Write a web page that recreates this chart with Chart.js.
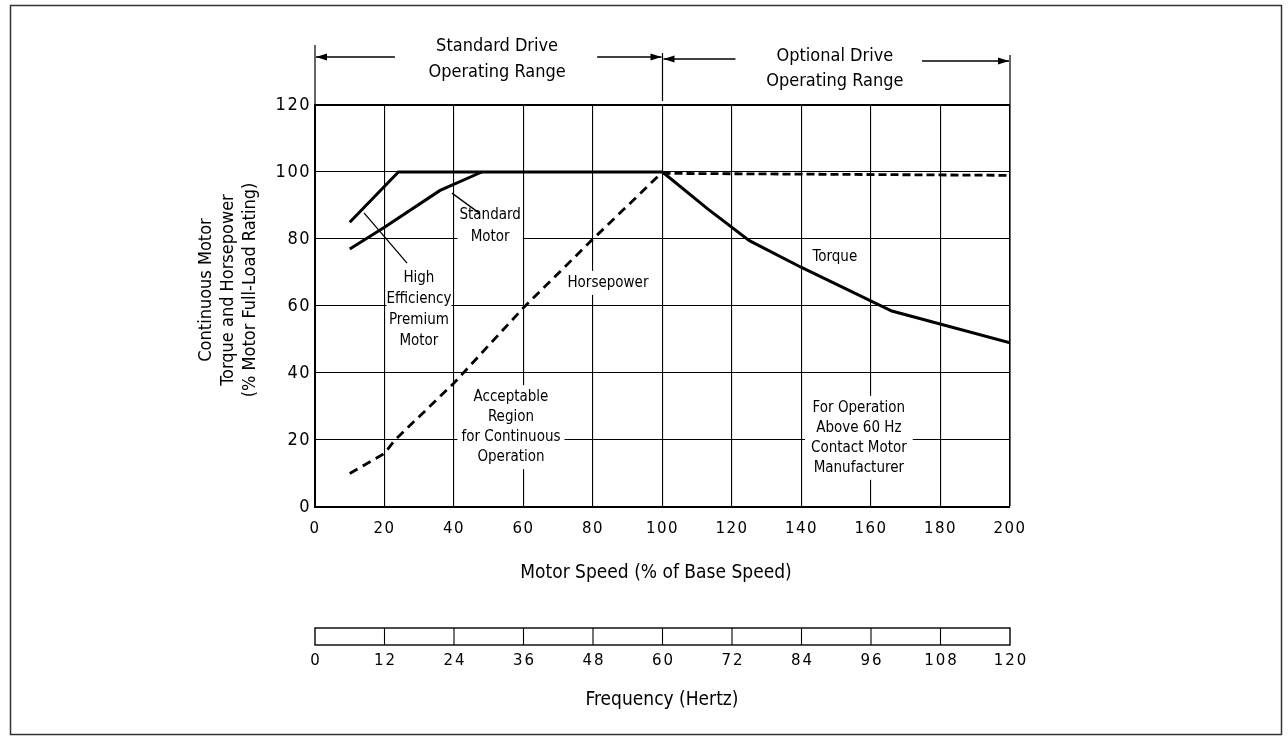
<!DOCTYPE html>
<html>
<head>
<meta charset="utf-8">
<script src="https://cdn.jsdelivr.net/npm/chart.js@4"></script>
<style>
  html, body { margin: 0; padding: 0; background: #fff; }
  canvas { display: block; }
</style>
</head>
<body>
<canvas id="grafico" width="1288" height="736"></canvas>
<script>
// ── Datos ─────────────────────────────────────
const speedTicks = [0, 20, 40, 60, 80, 100, 120, 140, 160, 180, 200]
const hzTicks    = [0, 12, 24, 36, 48, 60, 72, 84, 96, 108, 120]

// motor de alta eficiencia (se une con la línea de 100 %)
const heX = [10, 24, 100]
const heY = [85, 100, 100]

// motor estándar
const stdX = [10, 20, 36, 48]
const stdY = [77, 83.5, 94.5, 100]

// potencia (discontinua)
const hpX = [10, 20, 23, 40, 60, 80, 100]
const hpY = [10, 16, 20, 37, 59.5, 80, 100]
const hpExtX = [100, 200]
const hpExtY = [99.6, 99]

// par
const torqueX = [100, 113, 125, 140, 166, 200]
const torqueY = [100, 89, 79.5, 71.5, 58.5, 49]

const pares = (xs, ys) => xs.map((x, i) => ({ x, y: ys[i] }))

const FUENTE   = "'Liberation Sans Narrow', 'DejaVu Sans Condensed', sans-serif"
const FUENTE_N = "'DejaVu Sans', sans-serif"
const NEGRO    = '#000'

// ── Notas dentro del gráfico (coordenadas de datos) ──
const notas = [
  { x: 50.4, y: 87.2, lineas: ['Standard', 'Motor'], paso: 22, pad: 2 },
  { x: 29.9, y: 68.4, lineas: ['High', 'Efficiency', 'Premium', 'Motor'], paso: 21, pad: 0 },
  { x: 84.3, y: 66.9, lineas: ['Horsepower'], paso: 20, pad: 6 },
  { x: 149.6, y: 74.6, lineas: ['Torque'], paso: 20, pad: 6 },
  { x: 56.4, y: 32.8, lineas: ['Acceptable', 'Region', 'for Continuous', 'Operation'], paso: 20, pad: 4 },
  { x: 156.5, y: 29.6, lineas: ['For Operation', 'Above 60 Hz', 'Contact Motor', 'Manufacturer'], paso: 20, pad: 6 }
]
const guias = [
  [14.1, 87.8, 26.5, 72.8],
  [39.4, 93.7, 47.2, 87.8]
]

function flecha(ctx, x1, x2, y, punta) {
  ctx.beginPath()
  ctx.moveTo(x1, y); ctx.lineTo(x2, y); ctx.stroke()
  const px = punta === 'izq' ? x1 : x2
  const d  = punta === 'izq' ? 1 : -1
  ctx.beginPath()
  ctx.moveTo(px, y)
  ctx.lineTo(px + d * 11, y - 3.5)
  ctx.lineTo(px + d * 11, y + 3.5)
  ctx.closePath(); ctx.fill()
}

// ── Plugin: textos, cajas y escala de frecuencia ──
const extras = {
  id: 'extras',
  beforeDraw(chart) {
    // números del eje algo espaciados, como en el original
    chart.ctx.letterSpacing = '1.5px'
  },
  beforeDatasetsDraw(chart) {
    const { ctx, scales: { x, y } } = chart
    ctx.letterSpacing = '0px'
    ctx.save()
    ctx.font = `15px ${FUENTE}`
    ctx.textAlign = 'center'
    ctx.textBaseline = 'middle'
    notas.forEach(n => {
      const cx = x.getPixelForValue(n.x)
      const cy = y.getPixelForValue(n.y)
      const ancho = Math.max(...n.lineas.map(l => ctx.measureText(l).width)) + n.pad * 2
      const alto  = n.paso * n.lineas.length + 4
      ctx.fillStyle = '#fff'
      ctx.fillRect(cx - ancho / 2, cy - n.paso / 2 - 2, ancho, alto)
      ctx.fillStyle = NEGRO
      n.lineas.forEach((l, i) => ctx.fillText(l, cx, cy + i * n.paso))
    })
    ctx.strokeStyle = NEGRO
    ctx.lineWidth = 1.3
    guias.forEach(([a, b, c, d]) => {
      ctx.beginPath()
      ctx.moveTo(x.getPixelForValue(a), y.getPixelForValue(b))
      ctx.lineTo(x.getPixelForValue(c), y.getPixelForValue(d))
      ctx.stroke()
    })
    ctx.restore()
  },
  afterDraw(chart) {
    const { ctx, scales: { x }, chartArea } = chart
    ctx.save()
    ctx.strokeStyle = NEGRO
    ctx.fillStyle = NEGRO

    // marco exterior
    ctx.strokeStyle = '#333'
    ctx.lineWidth = 1.5
    ctx.strokeRect(10.5, 5.5, 1271, 729)
    ctx.strokeStyle = NEGRO

    // rangos de operación
    const x0 = x.getPixelForValue(0), x100 = x.getPixelForValue(100), x200 = x.getPixelForValue(200)
    ctx.lineWidth = 1.2
    ctx.beginPath()
    ctx.moveTo(x0, 45); ctx.lineTo(x0, chartArea.top)
    ctx.moveTo(x100, 53); ctx.lineTo(x100, chartArea.top - 4)
    ctx.moveTo(x200, 55); ctx.lineTo(x200, chartArea.top)
    ctx.stroke()
    ctx.lineWidth = 1.6
    flecha(ctx, x0 + 1, x.getPixelForValue(23), 57, 'izq')
    flecha(ctx, x.getPixelForValue(81.2), x100 - 1, 57, 'der')
    flecha(ctx, x100 + 1, x.getPixelForValue(121), 59, 'izq')
    flecha(ctx, x.getPixelForValue(174.7), x200 - 1, 61, 'der')

    ctx.font = `18px ${FUENTE}`
    ctx.textAlign = 'center'
    ctx.textBaseline = 'middle'
    const cStd = x.getPixelForValue(52.4), cOpt = x.getPixelForValue(149.6)
    ctx.fillText('Standard Drive', cStd, 46)
    ctx.fillText('Operating Range', cStd, 72)
    ctx.fillText('Optional Drive', cOpt, 56)
    ctx.fillText('Operating Range', cOpt, 81)

    // títulos de ejes
    ctx.font = `19px ${FUENTE}`
    ctx.fillText('Motor Speed (% of Base Speed)', 656, 573)
    ctx.fillText('Frequency (Hertz)', 662, 700)
    ctx.font = `18px ${FUENTE}`
    ctx.save()
    ctx.translate(0, 290)
    ctx.rotate(-Math.PI / 2)
    ctx.fillText('Continuous Motor', 0, 206)
    ctx.fillText('Torque and Horsepower', 0, 228)
    ctx.fillText('(% Motor Full-Load Rating)', 0, 250)
    ctx.restore()

    // escala de frecuencia
    const top = 628, bot = 645
    ctx.lineWidth = 1.4
    ctx.strokeRect(x0, top, x200 - x0, bot - top)
    ctx.lineWidth = 1.1
    ctx.font = `15px ${FUENTE_N}`
    ctx.letterSpacing = '2px'
    hzTicks.forEach(hz => {
      const px = x.getPixelForValue(hz / 60 * 100)
      if (hz > 0 && hz < 120) {
        ctx.beginPath(); ctx.moveTo(px, top); ctx.lineTo(px, bot); ctx.stroke()
      }
      ctx.fillText(String(hz), px + 1, 661)
    })
    ctx.letterSpacing = '0px'
    ctx.restore()
  }
}

const linea = (datos, extra) => Object.assign({
  data: datos,
  borderColor: NEGRO,
  borderWidth: 3,
  pointRadius: 0,
  fill: false,
  tension: 0
}, extra)

new Chart(document.getElementById('grafico'), {
  type: 'line',
  data: {
    datasets: [
      linea(pares(heX, heY)),
      linea(pares(stdX, stdY)),
      linea(pares(hpX, hpY), { borderDash: [9, 6], borderWidth: 2.8 }),
      linea(pares(hpExtX, hpExtY), { borderDash: [8, 4], borderWidth: 2.8 }),
      linea(pares(torqueX, torqueY))
    ]
  },
  options: {
    responsive: false,
    animation: false,
    devicePixelRatio: 1,
    layout: { padding: { left: 0, top: 105, right: 278, bottom: 0 }, autoPadding: false },
    plugins: { legend: { display: false }, tooltip: { enabled: false } },
    scales: {
      x: {
        type: 'linear',
        min: 0, max: 200,
        afterFit: s => { s.height = 229 },
        afterBuildTicks: s => { s.ticks = speedTicks.map(v => ({ value: v })) },
        grid: {
          color: NEGRO,
          lineWidth: c => (c.tick && c.tick.value === 200 ? 1.6 : 1.1),
          drawTicks: false
        },
        border: { color: NEGRO, width: 2 },
        ticks: {
          padding: 13,
          color: NEGRO,
          font: { family: FUENTE_N, size: 15 },
          maxRotation: 0
        }
      },
      y: {
        min: 0, max: 120,
        afterFit: s => { s.width = 315 },
        ticks: {
          stepSize: 20,
          padding: 4,
          color: NEGRO,
          font: { family: FUENTE, size: 18 }
        },
        grid: {
          color: NEGRO,
          lineWidth: c => (c.tick && c.tick.value === 120 ? 2 : 1.1),
          drawTicks: false
        },
        border: { color: NEGRO, width: 2 }
      }
    }
  },
  plugins: [extras]
})
</script>
</body>
</html>
